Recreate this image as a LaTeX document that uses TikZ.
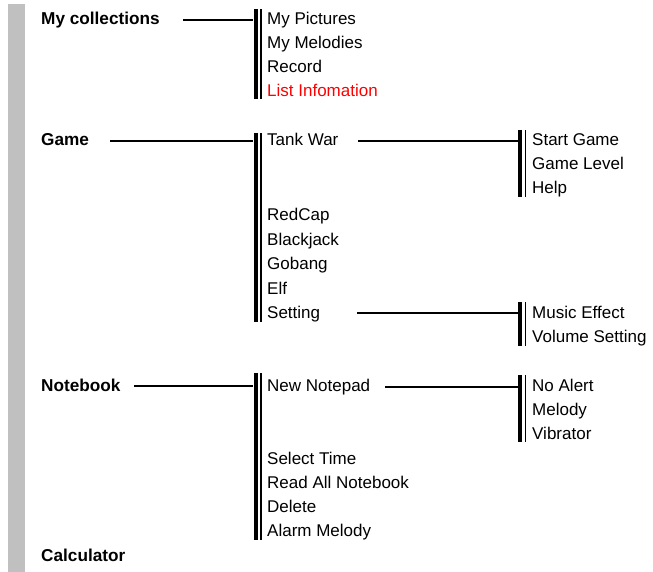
\documentclass[tikz,border=0pt]{standalone}
\usepackage{fontspec}
\setmainfont{Liberation Sans}
\definecolor{bargray}{RGB}{192,192,192}
\definecolor{itemred}{RGB}{255,0,0}
\newcommand{\dbar}[4]{%
  \node[thickbar, minimum height=#4pt] (#1) at (#2,#3) {};
  \node[thinbar, minimum height=#4pt] (#1t) at ([xshift=2.4pt]#1.north east) {};}
\begin{document}
\begin{tikzpicture}[x=1pt,y=-1pt,
  lbl/.style={anchor=base west, inner sep=0pt, font=\fontsize{17.2}{19}\selectfont\bfseries},
  item/.style={anchor=base west, inner sep=0pt, font=\fontsize{17}{19}\selectfont},
  thickbar/.style={fill=black, draw=none, inner sep=0pt, minimum width=4pt, anchor=north west},
  thinbar/.style={fill=black, draw=none, inner sep=0pt, minimum width=1.4pt, anchor=north west},
  conn/.style={line width=1.9pt}]
\useasboundingbox (0,0) rectangle (653,572);
\fill[bargray] (8.3,4) rectangle (25,572);

% top-level labels
\node[lbl] (mc) at (41,24.5) {My collections};
\node[lbl] (game) at (41,146) {Game};
\node[lbl] (nb) at (41,391) {Notebook};
\node[lbl] (calc) at (41,561) {Calculator};

% bars
\dbar{b1}{253.3}{9}{90}
\dbar{b2}{253.3}{133}{189}
\dbar{b3}{518}{130}{67}
\dbar{b4}{518}{302}{44}
\dbar{b5}{253.3}{373}{167}
\dbar{b6}{518}{375}{67}

% My collections items
\node[item] (i1) at (267,25) {My Pictures};
\node[item] (i2) at (267,49) {My Melodies};
\node[item] (i3) at (267,73) {Record};
\node[item, text=itemred] (i4) at (267,97) {List Infomation};

% Game items
\node[item] (g1) at (267,146) {Tank War};
\node[item] (g2) at (267,221) {RedCap};
\node[item] (g3) at (267,245) {Blackjack};
\node[item] (g4) at (267,269) {Gobang};
\node[item] (g5) at (267,294) {Elf};
\node[item] (g6) at (267,318) {Setting};

\node[item] (t1) at (532,146) {Start Game};
\node[item] (t2) at (532,170) {Game Level};
\node[item] (t3) at (532,194) {Help};

\node[item] (s1) at (532,318) {Music Effect};
\node[item] (s2) at (532,342) {Volume Setting};

% Notebook items
\node[item] (n1) at (267,391) {New Notepad};
\node[item] (n2) at (267,464) {Select Time};
\node[item] (n3) at (267,488) {Read All Notebook};
\node[item] (n4) at (267,512) {Delete};
\node[item] (n5) at (267,536) {Alarm Melody};

\node[item] (a1) at (532,391) {No Alert};
\node[item] (a2) at (532,415) {Melody};
\node[item] (a3) at (532,439) {Vibrator};

% connectors
\coordinate (c1) at (183,20);
\coordinate (c2) at (110,141);
\coordinate (c3) at (358,141);
\coordinate (c4) at (357,313);
\coordinate (c5) at (134,386);
\coordinate (c6) at (385,387);
\draw[conn] (c1) -- (c1 -| b1.west);
\draw[conn] (c2) -- (c2 -| b2.west);
\draw[conn] (c3) -- (c3 -| b3.west);
\draw[conn] (c4) -- (c4 -| b4.west);
\draw[conn] (c5) -- (c5 -| b5.west);
\draw[conn] (c6) -- (c6 -| b6.west);
\end{tikzpicture}
\end{document}
